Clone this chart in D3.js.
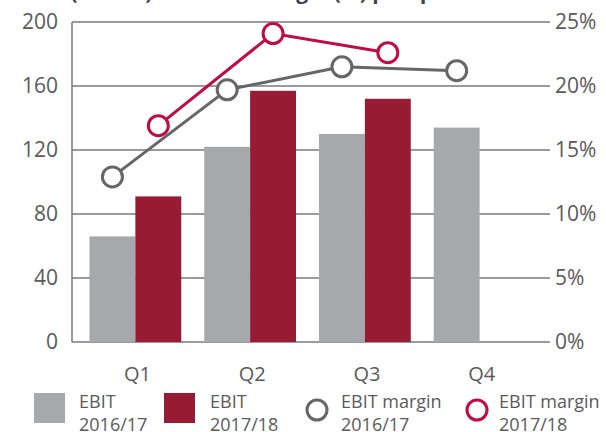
<!DOCTYPE html>
<html>
<head>
<meta charset="utf-8">
<script src="https://cdn.jsdelivr.net/npm/d3@7"></script>
<style>
  body { margin: 0; background: #fff; }
  svg { display: block; font-family: "Open Sans", "Noto Sans", sans-serif; }
</style>
</head>
<body>
<div id="chart"></div>
<script>
(function(){

const quarters = ["Q1", "Q2", "Q3", "Q4"];
const ebit1617 = [66, 122, 130, 134];
const ebit1718 = [91, 157, 152];
const margin1617 = [12.9, 19.7, 21.5, 21.2];
const margin1718 = [16.9, 24.1, 22.6];
const leftTicks = [0, 40, 80, 120, 160, 200];
const rightTicks = [0, 5, 10, 15, 20, 25];

const width = 606;
const height = 432;
const plot = {left: 72, right: 550, top: 22, bottom: 342};

const grey = "#a7a8ab";
const red = "#981b34";
const lineGrey = "#666666";
const lineRed = "#c20b40";

const svg = d3.select("#chart")
  .append("svg")
  .attr("width", width)
  .attr("height", height);

// title, clipped by the top edge (only descenders show)
svg.append("text")
  .attr("x", 20)
  .attr("y", -1)
  .style("font-size", "21px")
  .style("font-weight", "bold")
  .attr("fill", "#3a4652")
  .text("EBIT (EUR m) and EBIT margin (%) per quarter");

// scales
const x = d3.scaleBand()
  .domain(quarters)
  .range([78, 537])
  .paddingInner(0.2)
  .paddingOuter(0.1);

const sub = d3.scaleBand()
  .domain(["a", "b"])
  .range([0, x.bandwidth()]);

const y = d3.scaleLinear().domain([0, 200]).range([plot.bottom, plot.top]);
const y2 = d3.scaleLinear().domain([0, 25]).range([plot.bottom, plot.top]);

// gridlines
svg.append("g")
  .selectAll("line")
  .data(leftTicks)
  .enter()
  .append("line")
  .attr("x1", plot.left)
  .attr("x2", plot.right)
  .attr("y1", d => y(d))
  .attr("y2", d => y(d))
  .attr("stroke", "#7a7a7a")
  .attr("stroke-width", 1.5);

// left axis line
svg.append("line")
  .attr("x1", plot.left).attr("x2", plot.left)
  .attr("y1", y(200)).attr("y2", y(0))
  .attr("stroke", "#7a7a7a")
  .attr("stroke-width", 1.5);

// left tick labels
svg.append("g")
  .selectAll("text")
  .data(leftTicks)
  .enter()
  .append("text")
  .attr("x", 58)
  .attr("y", d => y(d) + 7)
  .attr("text-anchor", "end")
  .attr("fill", "#5a5a5a")
  .style("font-size", "21px")
  .text(d => d);

// right tick labels
svg.append("g")
  .selectAll("text")
  .data(rightTicks)
  .enter()
  .append("text")
  .attr("x", 555)
  .attr("y", d => y2(d) + 7)
  .attr("fill", "#5a5a5a")
  .style("font-size", "21px")
  .text(d => d + "%");

// bars
svg.append("g")
  .selectAll("rect")
  .data(ebit1617)
  .enter()
  .append("rect")
  .attr("x", (d, i) => x(quarters[i]) + sub("a"))
  .attr("y", d => y(d))
  .attr("width", sub.bandwidth())
  .attr("height", d => y(0) - y(d))
  .attr("fill", grey);

svg.append("g")
  .selectAll("rect")
  .data(ebit1718)
  .enter()
  .append("rect")
  .attr("x", (d, i) => x(quarters[i]) + sub("b"))
  .attr("y", d => y(d))
  .attr("width", sub.bandwidth())
  .attr("height", d => y(0) - y(d))
  .attr("fill", red);

// x labels
svg.append("g")
  .selectAll("text")
  .data(quarters)
  .enter()
  .append("text")
  .attr("x", d => x(d) + x.bandwidth() / 2 + 2)
  .attr("y", 381)
  .attr("text-anchor", "middle")
  .attr("fill", "#5a5a5a")
  .style("font-size", "20px")
  .text(d => d);

// margin lines
function drawLine(values, key, color) {
  const px = (d, i) => x(quarters[i]) + sub(key) + sub.bandwidth() / 2;
  svg.append("path")
    .datum(values)
    .attr("fill", "none")
    .attr("stroke", color)
    .attr("stroke-width", 3)
    .attr("d", d3.line().x(px).y(d => y2(d)));
  svg.append("g")
    .selectAll("circle")
    .data(values)
    .enter()
    .append("circle")
    .attr("cx", px)
    .attr("cy", d => y2(d))
    .attr("r", 10)
    .attr("fill", "#fff")
    .attr("stroke", color)
    .attr("stroke-width", 3);
}
drawLine(margin1617, "a", lineGrey);
drawLine(margin1718, "b", lineRed);

// legend
const legendItems = [
  {type: "rect", color: grey, x: 34, tx: 79, l1: "EBIT", l2: "2016/17"},
  {type: "rect", color: red, x: 164, tx: 210, l1: "EBIT", l2: "2017/18"},
  {type: "circle", color: lineGrey, x: 317, tx: 341, l1: "EBIT margin", l2: "2016/17"},
  {type: "circle", color: lineRed, x: 477, tx: 499, l1: "EBIT margin", l2: "2017/18"}
];

legendItems.forEach(d => {
  if (d.type === "rect") {
    svg.append("rect")
      .attr("x", d.x).attr("y", 393)
      .attr("width", 31).attr("height", 30)
      .attr("fill", d.color);
  } else {
    svg.append("circle")
      .attr("cx", d.x).attr("cy", 410)
      .attr("r", 10)
      .attr("fill", "#fff")
      .attr("stroke", d.color)
      .attr("stroke-width", 3);
  }
  svg.append("text")
    .attr("x", d.tx).attr("y", 408)
    .attr("fill", "#5a5a5a")
    .style("font-size", "18px")
    .text(d.l1);
  svg.append("text")
    .attr("x", d.tx).attr("y", 431)
    .attr("fill", "#5a5a5a")
    .style("font-size", "18px")
    .text(d.l2);
});

})();
</script>
</body>
</html>
